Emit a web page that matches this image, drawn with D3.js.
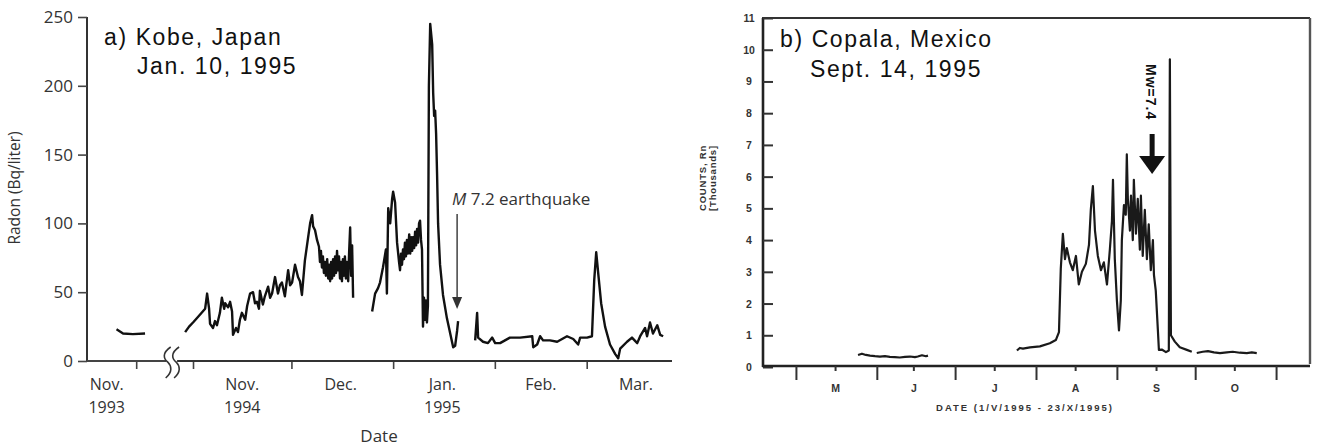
<!DOCTYPE html>
<html>
<head>
<meta charset="utf-8">
<script src="https://cdn.jsdelivr.net/npm/d3@7"></script>
<style>
  html, body { margin: 0; padding: 0; background: #fff; }
  svg { display: block; }
</style>
</head>
<body>
<svg id="chart" width="1320" height="448"></svg>
<script>
// ---------------- a) Kobe, Japan: groundwater radon ----------------
// Days counted from 1 Nov 1994 (the 1993 stretch is negative); null = gap in the record.
const kobeDays = [
  -341, -339, -336, -332.3, null,
  -2.4, -1.2, 0, 1.5, 3.7, 4.3, 4.9, 5.2, 6.1, 6.7, 7.3, 8.2, 8.8, 9.5, 9.8, 10.7, 11.3, 11.9, 12.2, 13.1,
  13.7, 14.3, 14.9, 15.9, 16.5, 17.4, 18.3, 18.9, 19.5, 20.1, 20.4, 21.3, 21.9, 22.9, 23.5, 24.1, 25.0,
  25.9, 26.5, 27.1, 28.0, 29.0, 29.6, 30.2, 31.1, 32.0, 32.6, 33.2, 34.1, 35.1, 35.7, 36.3, 36.6, 37.2,
  37.8, 38.4, 38.7, 39.0, 39.3, 39.6, 39.9, 40.2, 40.5, 40.9, 41.2, 41.5, 41.8, 42.1, 42.4, 42.7, 43.0,
  43.3, 43.6, 43.9, 44.2, 44.5, 44.8, 45.1, 45.4, 45.7, 46.0, 46.3, 46.6, 46.9, 47.3, 47.6, 47.9, 48.2,
  48.5, 48.8, null,
  54.6, 55.5, 56.4, 57.0, 57.9, 58.8, 59.1, 59.5, 60.1, 60.7, 61.0, 61.6, 62.2, 62.8, 63.1, 63.4, 63.7,
  64.0, 64.3, 64.6, 64.9, 65.2, 65.5, 65.9, 66.2, 66.5, 66.8, 67.1, 67.4, 67.7, 68.0, 68.3, 68.6, 68.9,
  69.2, 69.5, 69.8, 70.1, 70.4, 70.7, 71.0, 71.3, 71.6, 71.9, 72.3, 72.9, 73.2, 73.5, 73.8, 74.1, 74.4,
  74.7, 75.3, 76.2, 77.4, 78.4, 79.3, 79.9, 80.5, 80.8, null,
  86.0, 86.6, 86.9, 88.4, 89.9, 91.2, 92.1, 93.6, 96.6, 99.7, 103.4, 103.7, 104.9, 105.8, 106.7, 108.8,
  111.0, 114.0, 115.9, 117.4, 118.0, 120.1, 121.6, 122.3, 122.9, 123.5, 124.4, 125.6, 127.1, 128.7,
  129.6, 130.2, 132.3, 133.8, 135.4, 136.3, 137.8, 138.4, 139.3, 140.2, 141.5, 142.4, 143.3
];
// Radon concentration, Bq/liter
const kobeRadon = [
  23, 20, 19.5, 20, null,
  21, 25, 28, 32, 38, 49, 38, 27, 24, 29, 26, 35, 46, 38, 42, 39, 43, 36, 19, 24,
  21, 30, 35, 30, 40, 49, 50, 42, 43, 38, 51, 41, 47, 54, 46, 49, 61,
  49, 55, 57, 47, 66, 55, 57, 70, 61, 58, 48, 73, 90, 100, 106, 98, 95,
  88, 83, 72, 80, 68, 76, 64, 72, 62, 74, 60, 70, 58, 72, 60, 74, 62,
  76, 64, 80, 66, 76, 60, 72, 58, 74, 62, 76, 60, 72, 58, 80, 97, 62,
  84, 46, null,
  36, 49, 53, 57, 68, 81, 49, 111, 100, 118, 123, 115, 86, 72, 66, 78, 70,
  81, 74, 86, 76, 88, 78, 92, 78, 90, 80, 90, 82, 94, 84, 96, 86, 100,
  102, 88, 81, 25, 46, 30, 44, 28, 40, 200, 245, 230, 195, 178, 182, 165, 135,
  100, 70, 48, 31, 20, 10, 11, 22, 29, null,
  15, 35, 17, 14, 13, 17, 13, 13, 17, 17, 18, 10, 12, 18, 15, 15,
  14, 18, 16, 12, 17, 17, 18, 59, 79, 64, 42, 25, 12, 5,
  2, 9, 14, 17, 13, 18, 24, 18, 28, 20, 26, 19, 18
];
const kobeYTicks = [0, 50, 100, 150, 200, 250];
const kobeTickDays = [-335, 0, 30, 61, 92, 120];          // month boundaries
const kobeLabelDays = [-344, 15, 45, 76, 106, 135];        // month names sit mid-month
const kobeMonthNames = ["Nov.", "Nov.", "Dec.", "Jan.", "Feb.", "Mar."];
const kobeYearNames = ["1993", "1994", "", "1995", "", ""];
const kobeQuakeDay = 80.5;

// ---------------- b) Copala, Mexico: radon counts ----------------
// Days counted from 1 May 1995; null = gap in the record.
const copalaDays = [
  23.8, 25.3, 26.8, 28.4, 30.3, 32.2, 34.1, 36.0, 37.9, 39.8, 41.8, 43.7, 45.6, 46.7, 48.3, 49.8, 50.6, null,
  84.7, 85.8, 87.0, 89.7, 93.5, 97.3, 99.6, 100.8, 101.5, 102.3, 103.1, 103.8, 105.0, 106.1, 107.3, 108.4,
  109.6, 111.1, 112.3, 113.0, 113.8, 114.6, 115.7, 116.9, 118.0, 119.2, 120.3, 121.1, 121.5, 121.8, 122.2,
  123.0, 123.8, 124.5, 124.9, 125.7, 126.4, 126.8, 127.2, 128.0, 128.4, 129.1, 129.5, 130.3, 131.0, 131.8,
  132.2, 132.9, 133.7, 134.5, 135.2, 136.0, 136.8, 137.2, 137.9, 138.7, 139.1, 140.2, 141.8, 142.9, 143.3,
  143.7, 145.2, 147.1, 149.8, 151.7, null,
  153.6, 155.9, 157.9, 160.2, 162.5, 165.1, 167.4, 170.1, 172.8, 174.7, 176.6
];
// Counts of Rn, thousands
const copalaCounts = [
  0.38, 0.42, 0.38, 0.36, 0.34, 0.33, 0.34, 0.32, 0.31, 0.30, 0.32, 0.33, 0.31, 0.33, 0.37, 0.34, 0.36, null,
  0.52, 0.60, 0.58, 0.62, 0.65, 0.75, 0.85, 1.1, 3.1, 4.2, 3.4, 3.75, 3.3, 3.05, 3.5, 2.6,
  3.0, 3.25, 3.85, 4.95, 5.7, 4.3, 3.5, 3.05, 3.3, 2.6, 3.7, 4.6, 5.9, 4.8, 3.4,
  2.1, 1.15, 2.1, 4.0, 5.1, 4.8, 6.7, 5.3, 4.3, 5.4, 4.0, 5.9, 4.2, 5.3, 3.7,
  5.4, 3.5, 4.95, 3.4, 4.5, 3.05, 4.0, 2.9, 2.4, 1.17, 0.54, 0.55, 0.47, 0.52, 9.7,
  1.0, 0.8, 0.62, 0.54, 0.48, null,
  0.44, 0.48, 0.50, 0.46, 0.44, 0.46, 0.48, 0.45, 0.44, 0.46, 0.44
];
const copalaYTicks = [0, 1, 2, 3, 4, 5, 6, 7, 8, 9, 10, 11];
const copalaMonthStarts = [0, 31, 61, 92, 123, 153, 184];
const copalaMidMonths = [15, 45, 76, 107, 138, 168];
const copalaMonthLabels = ["M", "J", "J", "A", "S", "O"];
const copalaQuakeDay = 136.5;

const svg = d3.select("#chart");

// =============== panel a ===============
const kx = d3.scaleLinear()
  .domain([-350, -326, -5, 146])
  .range([87, 165.7, 176.6, 672]);
const ky = d3.scaleLinear().domain([0, 250]).range([361, 17]);

const kobeSeries = kobeDays.map((d, i) => ({ d, v: kobeRadon[i] }));
const kobeLine = d3.line()
  .defined(p => p.v != null && p.d != null)
  .x(p => kx(p.d)).y(p => ky(p.v));

const gA = svg.append("g");
const aFont = "'Open Sans', sans-serif";

// y axis
const kyAxis = gA.append("g")
  .attr("transform", "translate(87,0)")
  .call(d3.axisLeft(ky).tickValues(kobeYTicks).tickSize(9).tickPadding(5));
kyAxis.select(".domain").attr("stroke", "#333").attr("stroke-width", 2).attr("d", "M0,17V361");
kyAxis.selectAll(".tick line").attr("stroke", "#444").attr("stroke-width", 1.6);
kyAxis.selectAll(".tick text")
  .attr("font-family", aFont).attr("font-size", 17).attr("fill", "#333");

// x axis (month ticks, labels placed separately)
const kxAxis = gA.append("g")
  .attr("transform", "translate(0,361)")
  .call(d3.axisBottom(kx).tickValues(kobeTickDays).tickSize(8).tickFormat(""));
kxAxis.select(".domain").remove();
kxAxis.selectAll(".tick line").attr("stroke", "#444").attr("stroke-width", 1.6);

// broken baseline
const kRange = kx.range();
gA.append("line").attr("x1", kRange[0]).attr("x2", kRange[1] + 0.5).attr("y1", 361).attr("y2", 361)
  .attr("stroke", "#444").attr("stroke-width", 2);
gA.append("line").attr("x1", kRange[2] + 0.5).attr("x2", kRange[3]).attr("y1", 361).attr("y2", 361)
  .attr("stroke", "#333").attr("stroke-width", 2);
[kRange[1] + 2, kRange[2] - 0.5].forEach(bx => {
  gA.append("path")
    .attr("d", `M${bx + 3},347 C${bx - 6},353 ${bx - 4},359 ${bx},362 C${bx + 4},366 ${bx + 5},372 ${bx - 2},378`)
    .attr("fill", "none").attr("stroke", "#333").attr("stroke-width", 1.6);
});

// month and year labels
kobeMonthNames.forEach((s, i) => {
  gA.append("text").attr("x", kx(kobeLabelDays[i])).attr("y", 390).attr("text-anchor", "middle")
    .attr("font-family", aFont).attr("font-size", 16).attr("fill", "#333").text(s);
  if (kobeYearNames[i]) {
    gA.append("text").attr("x", kx(kobeLabelDays[i])).attr("y", 413).attr("text-anchor", "middle")
      .attr("font-family", aFont).attr("font-size", 16).attr("fill", "#333").text(kobeYearNames[i]);
  }
});

gA.append("text").attr("x", 379).attr("y", 442).attr("text-anchor", "middle")
  .attr("font-family", aFont).attr("font-size", 17).attr("fill", "#333").text("Date");
gA.append("text").attr("transform", "translate(20,188) rotate(-90)").attr("text-anchor", "middle")
  .attr("font-family", aFont).attr("font-size", 15.5).attr("fill", "#333")
  .text("Radon (Bq/liter)");

// data
gA.append("path").datum(kobeSeries).attr("d", kobeLine)
  .attr("fill", "none").attr("stroke", "#111").attr("stroke-width", 2.4)
  .attr("stroke-linejoin", "round");

// earthquake marker
const qx = kx(kobeQuakeDay);
gA.append("line").attr("x1", qx).attr("x2", qx).attr("y1", 214).attr("y2", 300)
  .attr("stroke", "#333").attr("stroke-width", 1.4);
gA.append("path").attr("d", `M${qx - 5},297 L${qx + 5},297 L${qx},309 Z`).attr("fill", "#333");
const mt = gA.append("text").attr("x", qx - 5).attr("y", 205)
  .attr("font-family", aFont).attr("font-size", 17).attr("fill", "#333");
mt.append("tspan").attr("font-style", "italic").text("M");
mt.append("tspan").text(" 7.2 earthquake");

// title
const titleFont = "'Liberation Sans', Arial, sans-serif";
gA.append("text").attr("x", 104).attr("y", 45).attr("font-family", titleFont)
  .attr("font-size", 23).attr("fill", "#111").attr("letter-spacing", 1.6).text("a) Kobe, Japan");
gA.append("text").attr("x", 137).attr("y", 74).attr("font-family", titleFont)
  .attr("font-size", 23).attr("fill", "#111").attr("letter-spacing", 1.6).text("Jan. 10, 1995");

// =============== panel b ===============
const cx = d3.scaleLinear().domain([-13, 197]).range([762, 1310]);
const cy = d3.scaleLinear().domain([0, 11]).range([367, 18]);

const gB = svg.append("g");
const bFont = "'Liberation Sans', Arial, sans-serif";

// frame
gB.append("line").attr("x1", 762).attr("x2", 1310).attr("y1", 18).attr("y2", 18)
  .attr("stroke", "#333").attr("stroke-width", 2.2);
gB.append("line").attr("x1", 1310).attr("x2", 1310).attr("y1", 18).attr("y2", 364)
  .attr("stroke", "#555").attr("stroke-width", 2.4);

const cyAxis = gB.append("g").attr("transform", "translate(763,0)")
  .call(d3.axisRight(cy).tickValues(copalaYTicks).tickSize(10).tickFormat(""));
cyAxis.select(".domain").attr("stroke", "#222").attr("stroke-width", 2.6).attr("d", "M0,18V367");
cyAxis.selectAll(".tick line").attr("stroke", "#333").attr("stroke-width", 2);
copalaYTicks.forEach(v => {
  gB.append("text").attr("x", 749).attr("y", cy(v) + 4).attr("text-anchor", "middle")
    .attr("font-family", bFont).attr("font-weight", "bold").attr("font-size", 10.5).attr("fill", "#333")
    .text(v);
});

const cxAxis = gB.append("g").attr("transform", "translate(0,366)")
  .call(d3.axisBottom(cx).tickValues(copalaMonthStarts).tickSize(14).tickFormat(""));
cxAxis.select(".domain").attr("stroke", "#222").attr("stroke-width", 2.4).attr("d", "M762,0H1310");
cxAxis.selectAll(".tick line").attr("stroke", "#333").attr("stroke-width", 2);
const cxMinor = gB.append("g").attr("transform", "translate(0,366)")
  .call(d3.axisBottom(cx).tickValues(copalaMidMonths).tickSize(5).tickPadding(14)
    .tickFormat((d, i) => copalaMonthLabels[i]));
cxMinor.select(".domain").remove();
cxMinor.selectAll(".tick line").attr("stroke", "#333").attr("stroke-width", 2);
cxMinor.selectAll(".tick text").attr("font-family", bFont).attr("font-weight", "bold")
  .attr("font-size", 10.5).attr("fill", "#333");

gB.append("text").attr("x", 1025).attr("y", 411).attr("text-anchor", "middle")
  .attr("font-family", bFont).attr("font-weight", "bold").attr("font-size", 9.5)
  .attr("letter-spacing", 2).attr("fill", "#333").text("DATE (1/V/1995 - 23/X/1995)");
gB.append("text").attr("transform", "translate(706,178) rotate(-90)").attr("text-anchor", "middle")
  .attr("font-family", bFont).attr("font-weight", "bold").attr("font-size", 9.5).attr("letter-spacing", 0.8)
  .attr("fill", "#333").text("COUNTS, Rn");
gB.append("text").attr("transform", "translate(716,178) rotate(-90)").attr("text-anchor", "middle")
  .attr("font-family", bFont).attr("font-weight", "bold").attr("font-size", 9.5).attr("letter-spacing", 0.8)
  .attr("fill", "#333").text("[Thousands]");

// data
const copalaSeries = copalaDays.map((d, i) => ({ d, v: copalaCounts[i] }));
const copalaLine = d3.line()
  .defined(p => p.v != null && p.d != null)
  .x(p => cx(p.d)).y(p => cy(p.v));
gB.append("path").datum(copalaSeries).attr("d", copalaLine)
  .attr("fill", "none").attr("stroke", "#1a1a1a").attr("stroke-width", 2.2)
  .attr("stroke-linejoin", "round");

// Mw marker
const ax = cx(copalaQuakeDay);
gB.append("text").attr("transform", `translate(${ax - 1},64) rotate(90)`)
  .attr("dominant-baseline", "central")
  .attr("font-family", bFont).attr("font-weight", "bold").attr("font-size", 14).attr("letter-spacing", 1)
  .attr("fill", "#111").text("Mw=7.4");
gB.append("rect").attr("x", ax - 2.5).attr("y", 134).attr("width", 5).attr("height", 26).attr("fill", "#111");
gB.append("path").attr("d", `M${ax - 13},156 L${ax + 13},156 L${ax},174 Z`).attr("fill", "#111");

// title
gB.append("text").attr("x", 780).attr("y", 47).attr("font-family", bFont)
  .attr("font-size", 23).attr("fill", "#111").attr("letter-spacing", 1.6).text("b) Copala, Mexico");
gB.append("text").attr("x", 810).attr("y", 77).attr("font-family", bFont)
  .attr("font-size", 23).attr("fill", "#111").attr("letter-spacing", 1.6).text("Sept. 14, 1995");
</script>
</body>
</html>
